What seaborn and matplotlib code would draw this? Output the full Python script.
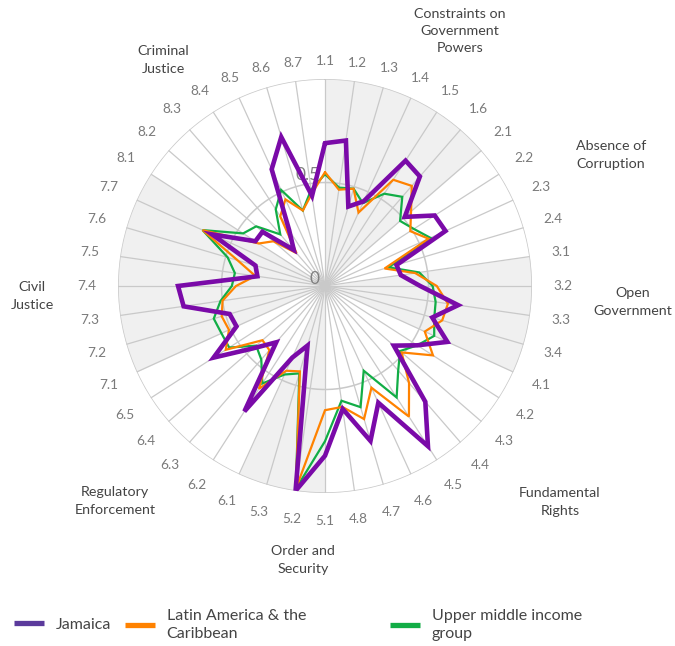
import numpy as np
import matplotlib
matplotlib.use("Agg")
import matplotlib.pyplot as plt
from matplotlib.lines import Line2D
import seaborn as sns

# WJP sub-factor codes, clockwise from the top
sub_factors = ["1.1", "1.2", "1.3", "1.4", "1.5", "1.6",
               "2.1", "2.2", "2.3", "2.4",
               "3.1", "3.2", "3.3", "3.4",
               "4.1", "4.2", "4.3", "4.4", "4.5", "4.6", "4.7", "4.8",
               "5.1", "5.2", "5.3",
               "6.1", "6.2", "6.3", "6.4", "6.5",
               "7.1", "7.2", "7.3", "7.4", "7.5", "7.6", "7.7",
               "8.1", "8.2", "8.3", "8.4", "8.5", "8.6", "8.7"]

pillar_names = ["Constraints on\nGovernment\nPowers", "Absence of\nCorruption",
                "Open\nGovernment", "Fundamental\nRights", "Order and\nSecurity",
                "Regulatory\nEnforcement", "Civil\nJustice", "Criminal\nJustice"]
pillar_sizes = [6, 4, 4, 8, 3, 5, 7, 7]

jamaica = [0.69, 0.71, 0.40, 0.45, 0.72, 0.70,
           0.51, 0.63, 0.64, 0.36,
           0.37, 0.46, 0.65, 0.54,
           0.65, 0.53, 0.44, 0.74, 0.92, 0.62, 0.78, 0.60,
           0.82, 1.00, 0.30,
           0.38, 0.72, 0.36, 0.46, 0.64,
           0.47, 0.48, 0.69, 0.71, 0.33, 0.35, 0.60,
           0.40, 0.40, 0.23, 0.32, 0.62, 0.75, 0.44]

latam = [0.55, 0.47, 0.49, 0.39, 0.61, 0.64,
         0.55, 0.49, 0.55, 0.30,
         0.44, 0.54, 0.60, 0.59,
         0.53, 0.62, 0.49, 0.62, 0.75, 0.54, 0.67, 0.59,
         0.60, 0.99, 0.43,
         0.45, 0.59, 0.41, 0.40, 0.57,
         0.51, 0.52, 0.50, 0.43, 0.34, 0.44, 0.65,
         0.38, 0.33, 0.21, 0.40, 0.46, 0.38, 0.45]

upper_mid = [0.54, 0.48, 0.49, 0.44, 0.53, 0.57,
             0.48, 0.51, 0.56, 0.32,
             0.46, 0.52, 0.54, 0.55,
             0.58, 0.53, 0.48, 0.54, 0.64, 0.45, 0.61, 0.56,
             0.75, 0.99, 0.44,
             0.47, 0.56, 0.47, 0.44, 0.55,
             0.55, 0.56, 0.51, 0.45, 0.44, 0.49, 0.65,
             0.47, 0.44, 0.33, 0.44, 0.51, 0.38, 0.47]

series_names = ["Jamaica", "Latin America & the\nCaribbean", "Upper middle income\ngroup"]
line_colors = ["#7a0aa8", "#ff8200", "#12ad46"]
legend_colors = ["#5b3a9c", "#ff8200", "#12ad46"]

# pixel positions of the pillar titles (layout only)
pillar_pos = [(460, 31), (611, 155), (633, 302), (560, 502),
              (303, 560), (115, 501), (32, 296), (163, 60)]

W, H = 675, 646
sns.set_theme(style="white")
plt.rcParams["font.family"] = ["Lato", "DejaVu Sans"]

fig = plt.figure(figsize=(W / 100, H / 100), dpi=100)
cx, cy, R = 325, 286, 207
ax = fig.add_axes([(cx - R) / W, (H - cy - R) / H, 2 * R / W, 2 * R / H], projection="polar")
ax.set_theta_zero_location("N")
ax.set_theta_direction(-1)
ax.set_ylim(0, 1)
ax.set_axis_off()

n = len(sub_factors)
theta = np.deg2rad(np.arange(n) * 360.0 / n)
grid_c = "#c9c9c9"

# alternating pillar shading
starts = np.cumsum([0] + pillar_sizes)
for k in range(len(pillar_sizes)):
    if k % 2 == 0:
        t0 = np.deg2rad(starts[k] * 360.0 / n)
        t1 = np.deg2rad(starts[k + 1] * 360.0 / n)
        tt = np.linspace(t0, t1, 60)
        ax.fill_between(tt, 0, 1, color="#f0f0f0", lw=0, zorder=0)

# spokes and rings
for t in theta:
    ax.plot([t, t], [0, 1], color=grid_c, lw=0.9, zorder=1)
ring = np.linspace(0, 2 * np.pi, 400)
ax.plot(ring, np.full_like(ring, 0.5), color=grid_c, lw=1.1, zorder=1)
ax.plot(ring, np.full_like(ring, 1.0), color=grid_c, lw=1.1, zorder=1)

# radial tick labels
for v, s in [(0, "0"), (0.5, "0.5")]:
    ax.annotate(s, xy=(0, v), xytext=(-3.6, 1.8), textcoords="offset points",
                ha="right", va="baseline", fontsize=12.5, color="#808080", zorder=2)

# sub-factor labels
for t, lab in zip(theta, sub_factors):
    c = np.cos(t)
    r_px = 238 - 13 * max(c, 0) ** 4 - 3 * max(-c, 0) ** 4
    ax.text(t, r_px / R, lab, ha="center", va="center", fontsize=9.8, color="#7a7a7a")

# series lines
theta_c = np.append(theta, 2 * np.pi)
order = [2, 1, 0]
values = [jamaica, latam, upper_mid]
widths = [3.3, 1.6, 1.6]
for i in order:
    vals = np.append(values[i], values[i][0])
    sns.lineplot(x=theta_c, y=vals, ax=ax, color=line_colors[i], linewidth=widths[i],
                 sort=False, estimator=None, legend=False, zorder=3 + (2 - i),
                 solid_joinstyle="miter")
ax.set_ylim(0, 1)
ax.set_axis_off()

# pillar titles
for name, (px, py) in zip(pillar_names, pillar_pos):
    fig.text(px / W, 1 - py / H, name, ha="center", va="center", fontsize=10.3,
             color="#444444", linespacing=1.55)

# legend
leg_x = [14, 125, 390]
for i in range(3):
    h = Line2D([], [], color=legend_colors[i], lw=3.8, solid_capstyle="butt")
    leg = fig.legend([h], [series_names[i]], loc="center left",
                     bbox_to_anchor=(leg_x[i] / W, 1 - 625 / H), frameon=False,
                     borderpad=0, borderaxespad=0, handlelength=1.85,
                     handletextpad=0.75, fontsize=11.5)
    for txt in leg.get_texts():
        txt.set_color("#444444")
        txt.set_linespacing(1.3)

fig.savefig("out.png", dpi=100, facecolor="white")
